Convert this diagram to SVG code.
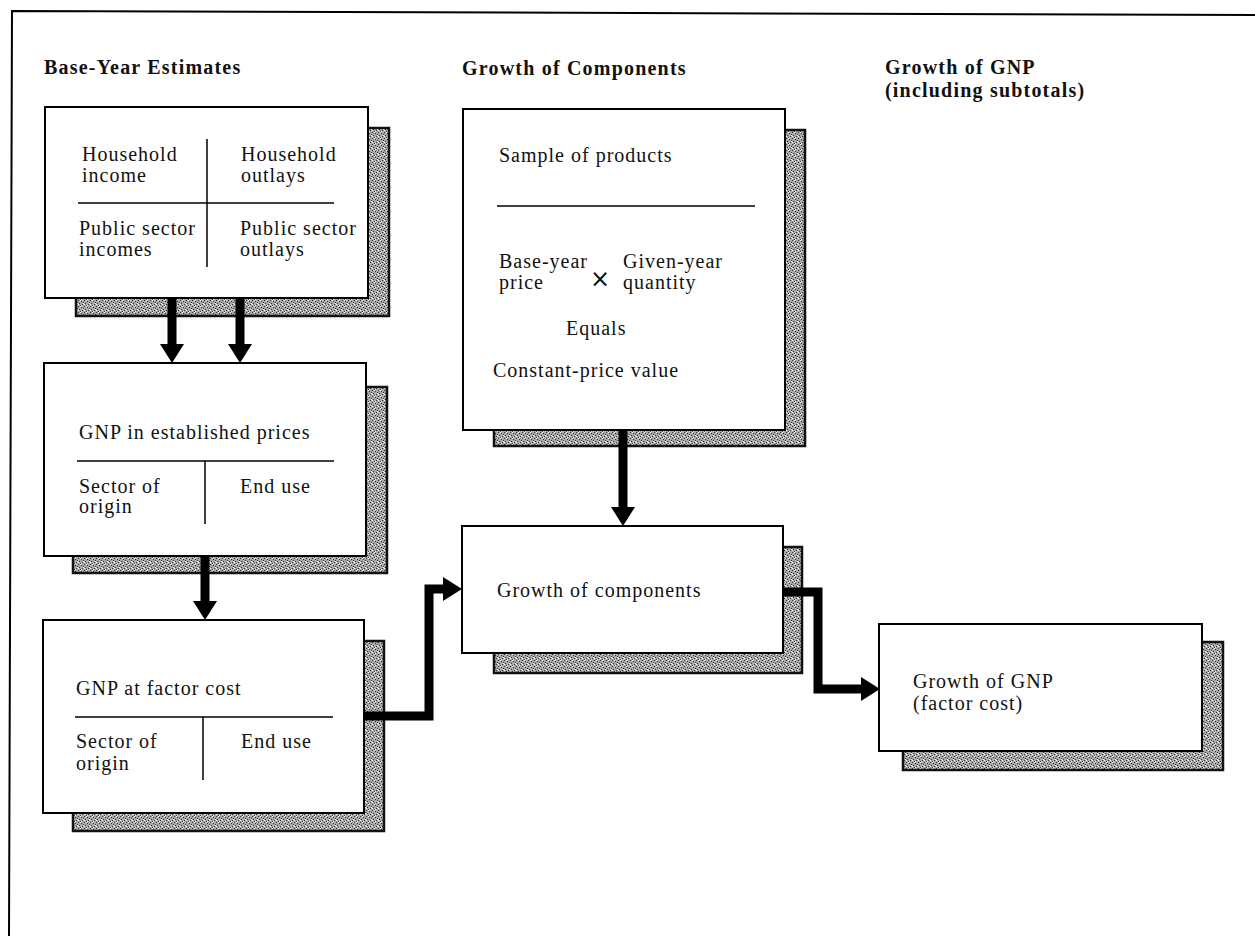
<svg xmlns="http://www.w3.org/2000/svg" width="1255" height="936" viewBox="0 0 1255 936">
<style>
.bg{fill:#fff}
.frame{fill:none;stroke:#000;stroke-width:2}
.box{fill:#fff;stroke:#000;stroke-width:2}
.shadow{fill:url(#stip);stroke:#111;stroke-width:2.5}
.rule{stroke:#000;stroke-width:1.5;fill:none}
.t{font-family:"Liberation Serif","Times New Roman",serif;font-size:20px;letter-spacing:1px;fill:#111}
.h{font-family:"Liberation Serif","Times New Roman",serif;font-size:20px;font-weight:bold;letter-spacing:1.2px;fill:#111}
.x{font-family:"DejaVu Sans",sans-serif;font-size:24px;fill:#111}
.conn{fill:none;stroke:#000;stroke-width:9;stroke-linejoin:miter;marker-end:url(#head)}
</style>
<defs>
<pattern id="stip" patternUnits="userSpaceOnUse" width="6" height="6">
<rect width="6" height="6" fill="#a8a8a8"/>
<rect x="0" y="0" width="1" height="1" fill="#333"/>
<rect x="3" y="1" width="1" height="1" fill="#333"/>
<rect x="1" y="3" width="1" height="1" fill="#333"/>
<rect x="4" y="4" width="1" height="1" fill="#333"/>
<rect x="2" y="5" width="1" height="1" fill="#333"/>
<rect x="5" y="2" width="1" height="1" fill="#333"/>
<rect x="2" y="0" width="1" height="1" fill="#fff"/>
<rect x="5" y="3" width="1" height="1" fill="#fff"/>
<rect x="0" y="4" width="1" height="1" fill="#fff"/>
<rect x="3" y="5" width="1" height="1" fill="#eee"/>
</pattern>
<marker id="head" markerUnits="userSpaceOnUse" markerWidth="20" markerHeight="24" refX="1" refY="12" orient="auto">
<path d="M0,0 L19,12 L0,24 Z" fill="#000"/>
</marker>
</defs>
<rect class="bg" width="1255" height="936"/>
<path class="frame" d="M1255,15 L12,11 L9,936"/>

<g id="headers">
<text class="h" x="44" y="74">Base-Year Estimates</text>
<text class="h" x="462" y="75">Growth of Components</text>
<text class="h" x="885" y="74">Growth of GNP</text>
<text class="h" x="885" y="97">(including subtotals)</text>
</g>

<g id="base-year-estimates">
<rect class="shadow" x="76" y="128" width="313" height="188"/>
<rect class="box" x="45" y="107" width="323" height="191"/>
<line class="rule" x1="207" y1="139" x2="207" y2="267"/>
<line class="rule" x1="78" y1="203" x2="334" y2="203"/>
<text class="t" x="82" y="161">Household</text>
<text class="t" x="82" y="182">income</text>
<text class="t" x="241" y="161">Household</text>
<text class="t" x="241" y="182">outlays</text>
<text class="t" x="79" y="235">Public sector</text>
<text class="t" x="79" y="256">incomes</text>
<text class="t" x="240" y="235">Public sector</text>
<text class="t" x="240" y="256">outlays</text>
</g>

<g id="sample-of-products">
<rect class="shadow" x="494" y="130" width="311" height="316"/>
<rect class="box" x="463" y="109" width="322" height="321"/>
<text class="t" x="499" y="162">Sample of products</text>
<line class="rule" x1="497" y1="206" x2="755" y2="206"/>
<text class="t" x="499" y="268">Base-year</text>
<text class="t" x="499" y="289">price</text>
<text class="x" x="600" y="287" text-anchor="middle">×</text>
<text class="t" x="623" y="268">Given-year</text>
<text class="t" x="623" y="289">quantity</text>
<text class="t" x="566" y="335">Equals</text>
<text class="t" x="493" y="377">Constant-price value</text>
</g>

<g id="gnp-established-prices">
<rect class="shadow" x="73" y="387" width="314" height="186"/>
<rect class="box" x="44" y="363" width="322" height="193"/>
<text class="t" x="79" y="439">GNP in established prices</text>
<line class="rule" x1="77" y1="461" x2="334" y2="461"/>
<line class="rule" x1="205" y1="461" x2="205" y2="524"/>
<text class="t" x="79" y="493">Sector of</text>
<text class="t" x="79" y="513">origin</text>
<text class="t" x="240" y="493">End use</text>
</g>

<g id="gnp-factor-cost">
<rect class="shadow" x="73" y="641" width="311" height="190"/>
<rect class="box" x="43" y="620" width="321" height="193"/>
<text class="t" x="76" y="695">GNP at factor cost</text>
<line class="rule" x1="75" y1="717" x2="333" y2="717"/>
<line class="rule" x1="203" y1="717" x2="203" y2="780"/>
<text class="t" x="76" y="748">Sector of</text>
<text class="t" x="76" y="770">origin</text>
<text class="t" x="241" y="748">End use</text>
</g>

<g id="growth-of-components">
<rect class="shadow" x="494" y="547" width="308" height="126"/>
<rect class="box" x="462" y="526" width="321" height="127"/>
<text class="t" x="497" y="597">Growth of components</text>
</g>

<g id="growth-of-gnp">
<rect class="shadow" x="903" y="642" width="320" height="128"/>
<rect class="box" x="879" y="624" width="323" height="127"/>
<text class="t" x="913" y="688">Growth of GNP</text>
<text class="t" x="913" y="710">(factor cost)</text>
</g>

<g id="connectors">
<path class="conn" d="M172,298 V345"/>
<path class="conn" d="M240,298 V345"/>
<path class="conn" d="M205,556 V602"/>
<path class="conn" d="M623,430 V508"/>
<path class="conn" d="M364,716 H429 V589 H444"/>
<path class="conn" d="M783,592 H818 V689 H862"/>
</g>
</svg>
